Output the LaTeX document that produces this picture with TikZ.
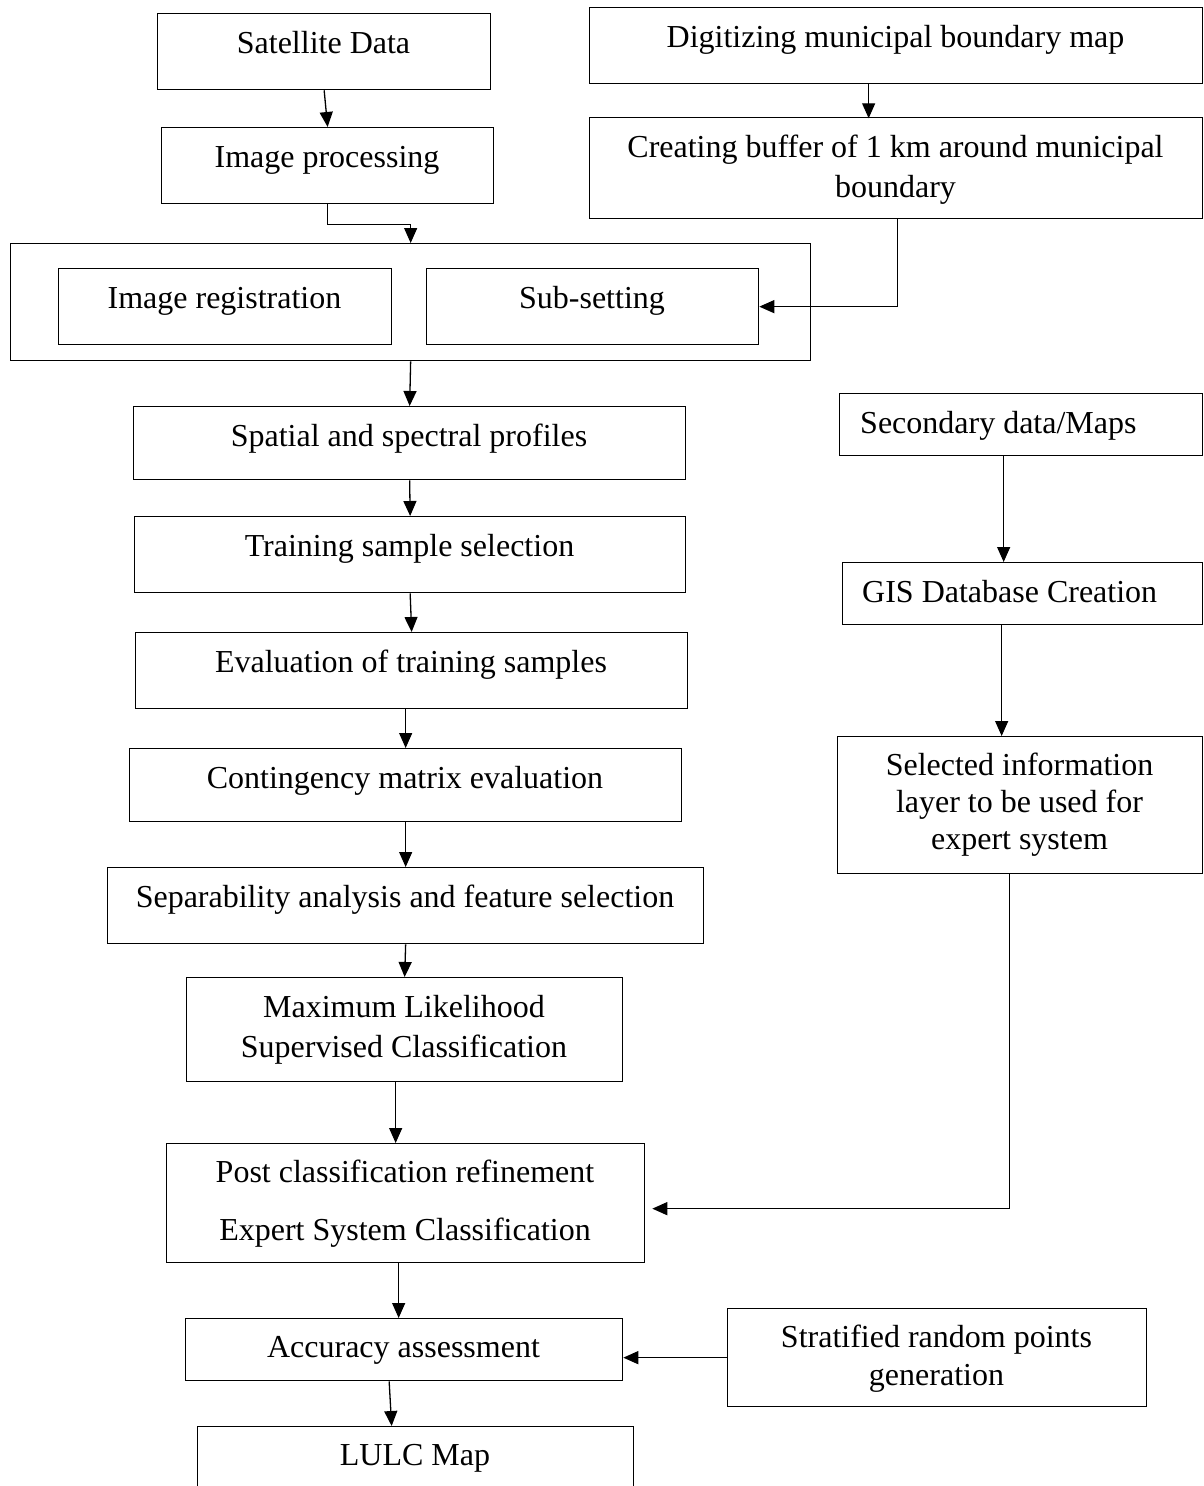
\documentclass[tikz,border=0pt]{standalone}
\usepackage{fontspec}
\setmainfont{Liberation Serif}
\usetikzlibrary{arrows.meta}
\begin{document}
\begin{tikzpicture}[x=1pt,y=-1pt,
  box/.style={draw=black, line width=1.3pt, rectangle, inner sep=0pt, anchor=north west},
  txt/.style={inner sep=0pt, anchor=base, font=\fontsize{32}{40}\selectfont},
  mtxt/.style={inner sep=0pt, anchor=base, align=flush center, text width=#1},
  mtxt/.default=600pt,
  flow/.style={line width=1.3pt, -{Triangle[width=13pt,length=15pt]}}]

\useasboundingbox (0,0) rectangle (1203,1486);
\clip (0,0) rectangle (1203,1486);

% ---------- image processing chain ----------
\node[box, minimum width=333, minimum height=76] (sat) at (157,13) {};
\node[txt] (sat-t) at (323.5,53) {Satellite Data};

\node[box, minimum width=332, minimum height=76] (ip) at (161,127) {};
\node[txt] (ip-t) at (327,167) {Image processing};

\node[box, minimum width=800, minimum height=117] (outer) at (10,243) {};
\node[box, minimum width=333, minimum height=76] (ir) at (58,268) {};
\node[txt] (ir-t) at (224.5,308) {Image registration};
\node[box, minimum width=332, minimum height=76] (ss) at (426,268) {};
\node[txt] (ss-t) at (592,308) {Sub-setting};

% ---------- municipal boundary branch ----------
\node[box, minimum width=613, minimum height=76] (dig) at (589,7) {};
\node[txt] (dig-t) at (895.5,47) {Digitizing municipal boundary map};

\node[box, minimum width=613, minimum height=101] (buf) at (589,117) {};
\node[mtxt, font=\fontsize{32}{40}\selectfont] (buf-t) at (895.5,157)
  {Creating buffer of 1 km around municipal\\boundary};

% ---------- classification chain ----------
\node[box, minimum width=552, minimum height=73] (spa) at (133,406) {};
\node[txt] (spa-t) at (409,446) {Spatial and spectral profiles};

\node[box, minimum width=551, minimum height=76] (tra) at (134,516) {};
\node[txt] (tra-t) at (409.5,556) {Training sample selection};

\node[box, minimum width=552, minimum height=76] (eva) at (135,632) {};
\node[txt] (eva-t) at (411,672) {Evaluation of training samples};

\node[box, minimum width=552, minimum height=73] (con) at (129,748) {};
\node[txt] (con-t) at (405,788) {Contingency matrix evaluation};

\node[box, minimum width=596, minimum height=76] (sep) at (107,867) {};
\node[txt] (sep-t) at (405,907) {Separability analysis and feature selection};

\node[box, minimum width=436, minimum height=104] (ml) at (186,977) {};
\node[mtxt, font=\fontsize{32}{40}\selectfont] (ml-t) at (404,1017)
  {Maximum Likelihood\\Supervised Classification};

\node[box, minimum width=478, minimum height=119] (post) at (166,1143) {};
\node[mtxt, font=\fontsize{32}{58}\selectfont] (post-t) at (405,1182)
  {Post classification refinement\\Expert System Classification};

\node[box, minimum width=437, minimum height=62] (acc) at (185,1318) {};
\node[txt] (acc-t) at (403.5,1357) {Accuracy assessment};

\node[box, minimum width=436, minimum height=80] (lulc) at (197,1426) {};
\node[txt] (lulc-t) at (415,1465) {LULC Map};

% ---------- ancillary data branch ----------
\node[box, minimum width=363, minimum height=62] (sec) at (839,393) {};
\node[txt, anchor=base west] (sec-t) at (860,433) {Secondary data/Maps};

\node[box, minimum width=360, minimum height=62] (gis) at (842,562) {};
\node[txt, anchor=base west] (gis-t) at (862,602) {GIS Database Creation};

\node[box, minimum width=365, minimum height=137] (sel) at (837,736) {};
\node[mtxt, font=\fontsize{32}{37}\selectfont] (sel-t) at (1019.5,775)
  {Selected information\\layer to be used for\\expert system};

\node[box, minimum width=419, minimum height=98] (str) at (727,1308) {};
\node[mtxt, font=\fontsize{32}{38}\selectfont] (str-t) at (936.5,1347)
  {Stratified random points\\generation};

% ---------- connectors ----------
\draw[flow] (sat.south) -- (ip.north);
\draw[flow] (ip.south) -- ++(0,20) -| (outer.north);
\draw[flow] (dig.south) ++(-27.5,0) -- ++(0,34);
\draw[flow] ([xshift=1.5pt]buf.south) |- (ss.east);
\draw[flow] (outer.south) -- (spa.north);
\draw[flow] (spa.south) -- (tra.north);
\draw[flow] (tra.south) -- (eva.north);
\draw[flow] (con.north |- eva.south) -- (con.north);
\draw[flow] (con.south) -- (sep.north);
\draw[flow] (sep.south) -- (ml.north);
\draw[flow] ([xshift=-9pt]ml.south) -- ([xshift=-9pt]ml.south |- post.north);
\draw[flow] ([xshift=-7pt]post.south) -- ([xshift=-7pt]post.south |- acc.north);
\draw[flow] ([xshift=-15pt]acc.south) -- ([xshift=-24pt]lulc.north);
\draw[flow] ([xshift=-17.5pt]sec.south) -- ([xshift=-17.5pt]sec.south |- gis.north);
\draw[flow] ([xshift=-21pt]gis.south) -- ([xshift=-21pt]gis.south |- sel.north);
\draw[flow] ([xshift=-10.5pt]sel.south) |- ([xshift=7pt,yshift=-5.5pt]post.east);
\draw[flow] (str.west) -- (str.west -| acc.east);

\end{tikzpicture}
\end{document}
